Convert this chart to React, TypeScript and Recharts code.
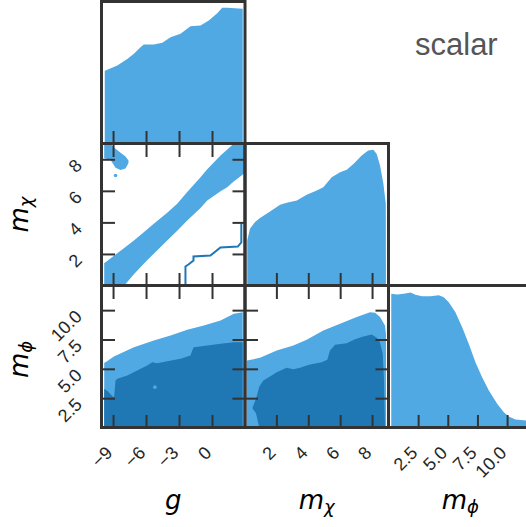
import React from "react";
import { ComposedChart, Area, Line, Scatter, XAxis, YAxis } from "recharts";

const LIGHT = "#51A9E4";
const DARK = "#1F77B4";
const FRAME = "#333333";
const TEXT = "#262626";

// axes
const G_TICKS = [-9, -6, -3, 0];
const MCHI_TICKS = [2, 4, 6, 8];
const MPHI_TICKS = [2.5, 5, 7.5, 10];
const G_DOMAIN: [number, number] = [-10.05, 3];
const MCHI_DOMAIN: [number, number] = [0, 9];
const MPHI_DOMAIN: [number, number] = [0, 12.1];
const PDF_DOMAIN: [number, number] = [0, 1];

// 1D marginals
const G_PDF_X = [-9.8, -9.73, -8.66, -7.75, -7.15, -6.55, -6.25, -5.34, -4.57, -3.82, -2.91, -2.0, -1.09, -0.34, 0.43, 0.88, 1.34, 2.7, 2.75];
const G_PDF_Y = [0.515, 0.518, 0.553, 0.599, 0.635, 0.682, 0.701, 0.701, 0.713, 0.752, 0.776, 0.83, 0.835, 0.87, 0.921, 0.959, 0.959, 0.952, 0.952];

const MCHI_PDF_X = [0.14, 0.31, 0.63, 0.94, 1.57, 2.2, 2.62, 3.25, 3.87, 4.5, 4.91, 5.44, 5.96, 6.38, 6.8, 7.32, 7.73, 8.05, 8.26, 8.47, 8.68, 8.83, 8.84];
const MCHI_PDF_Y = [0.32, 0.403, 0.45, 0.478, 0.525, 0.572, 0.586, 0.602, 0.642, 0.673, 0.696, 0.766, 0.801, 0.818, 0.86, 0.919, 0.954, 0.959, 0.93, 0.849, 0.72, 0.579, 0];

const MPHI_PDF_X = [0.19, 0.69, 1.25, 1.81, 2.23, 2.79, 3.49, 4.2, 4.62, 5.04, 5.6, 6.17, 6.73, 7.29, 7.85, 8.42, 9.12, 9.68, 10.1, 10.66, 11.58, 12.1];
const MPHI_PDF_Y = [0.945, 0.94, 0.945, 0.954, 0.938, 0.928, 0.928, 0.935, 0.921, 0.886, 0.815, 0.709, 0.592, 0.463, 0.357, 0.264, 0.17, 0.111, 0.081, 0.06, 0.053, 0.05];

// g vs m_chi
const BAND_G = [-9.85, -9.73, -8.06, -7.15, -6.25, -5.34, -4.12, -3.21, -2.3, -1.09, -0.48, 0.73, 1.34, 1.9, 2.85, 3.0];
const BAND_LO = [0, 0, 0, 0.75, 1.41, 2.05, 2.88, 3.5, 4.15, 4.95, 5.42, 6.0, 6.26, 6.6, 7.11, 7.2];
const BAND_HI = [1.45, 1.51, 2.4, 2.88, 3.4, 3.94, 4.65, 5.21, 5.95, 6.89, 7.4, 8.27, 8.65, 9, 9, 9];

const BLOB_G = [-9.85, -9.28, -8.82, -8.36, -7.91, -7.64];
const BLOB_LO = [8.1, 8.0, 7.5, 7.35, 7.45, 7.8];
const BLOB_HI = [9, 9, 8.7, 8.45, 8.2, 7.95];
const SPECK_G = [-8.82];
const SPECK_M = [7.0];

const STEP_G = [-2.46, -2.46, -2.19, -1.73, -1.73, -0.19, 0.72, 2.3, 2.62, 2.62];
const STEP_M = [0, 1.24, 1.36, 1.62, 1.87, 1.93, 2.44, 2.5, 2.76, 3.96];

// g vs m_phi
const L31_G = [-9.85, -9.73, -8.97, -7.15, -5.34, -3.82, -2.3, -0.79, 0.73, 1.94, 2.75];
const L31_HI = [5.55, 5.61, 6.1, 6.89, 7.46, 7.89, 8.37, 8.74, 9.16, 9.74, 9.87];
const D31_G = [-9.85, -9.5, -9.1, -8.95, -8.82, -8.66, -7.75, -6.85, -5.94, -5.48, -5.03, -4.12, -2.91, -2.0, -1.85, -1.7, -0.48, 0.73, 1.94, 2.75];
const D31_HI = [3.34, 3.1, 2.7, 2.63, 4.05, 4.19, 4.48, 4.9, 5.33, 5.61, 5.52, 5.69, 5.9, 6.18, 6.6, 6.89, 7.03, 7.18, 7.31, 7.31];
const SPOT_G = [-5.24];
const SPOT_M = [3.48];

// m_chi vs m_phi
const L32_X = [0.125, 0.94, 1.99, 3.03, 3.87, 4.91, 5.96, 7.01, 7.84, 8.16, 8.47, 8.78, 8.84, 8.85];
const L32_HI = [5.75, 5.98, 6.61, 7.03, 7.52, 8.31, 8.88, 9.45, 9.87, 9.82, 9.45, 8.74, 8.0, 0];
const D32_X = [0.48, 0.69, 0.9, 1.15, 1.57, 1.99, 2.61, 3.03, 3.45, 4.08, 4.81, 5.16, 5.33, 5.65, 6.38, 6.9, 7.42, 7.95, 8.26, 8.43, 8.64, 8.72, 8.78];
const D32_LO = [1.63, 1.26, 0, 0, 0, 0, 0, 0, 0, 0, 0, 0, 0, 0, 0, 0, 0, 0, 0, 0, 0, 0, 0];
const D32_HI = [1.77, 2.49, 3.54, 4.05, 4.39, 4.76, 5.13, 5.01, 5.13, 5.41, 5.61, 5.82, 6.61, 7.09, 7.23, 7.57, 7.8, 7.97, 7.7, 7.46, 6.33, 4.05, 0];

const pts = (xs: number[], ys: number[]) => xs.map((x, i) => ({ x, y: ys[i] }));
const band = (xs: number[], lo: number[], hi: number[]) => xs.map((x, i) => ({ x, y: [lo[i], hi[i]] }));

// layout
const COL_X = [101.5, 245, 388.5];
const ROW_Y = [1.5, 143.5, 285.5];
const PW = 143.5;
const PH = 142;
const TICK_LEN = 13;
const TICK_W = 2;
const SANS = "'Liberation Sans', Arial, sans-serif";
const MATH = "'DejaVu Sans', sans-serif";

const fmtG = (v: number) => (v < 0 ? "\u2212" + Math.abs(v) : String(v));
const fmtInt = (v: number) => String(v);
const fmtOne = (v: number) => v.toFixed(1);

// ticks point inwards; off-diagonal panels get them on all four sides
function xTick(mirror: boolean, fmt?: (v: number) => string) {
  return (p: any) => {
    const { x, y, payload } = p;
    const ly = y + 26;
    return (
      <g>
        <line x1={x} y1={y} x2={x} y2={y - TICK_LEN} stroke={FRAME} strokeWidth={TICK_W} />
        {mirror && <line x1={x} y1={y - PH} x2={x} y2={y - PH + TICK_LEN} stroke={FRAME} strokeWidth={TICK_W} />}
        {fmt && (
          <text x={x} y={ly} transform={`rotate(-45 ${x} ${ly})`} textAnchor="end"
            fontFamily={SANS} fontSize={18} fill={TEXT}>{fmt(payload.value)}</text>
        )}
      </g>
    );
  };
}

function yTick(fmt?: (v: number) => string) {
  return (p: any) => {
    const { x, y, payload } = p;
    const lx = x - 19, ly = y + 7;
    return (
      <g>
        <line x1={x} y1={y} x2={x + TICK_LEN} y2={y} stroke={FRAME} strokeWidth={TICK_W} />
        <line x1={x + PW} y1={y} x2={x + PW - TICK_LEN} y2={y} stroke={FRAME} strokeWidth={TICK_W} />
        {fmt && (
          <text x={lx} y={ly} transform={`rotate(-45 ${lx} ${ly})`} textAnchor="end"
            fontFamily={SANS} fontSize={18} fill={TEXT}>{fmt(payload.value)}</text>
        )}
      </g>
    );
  };
}

type PanelProps = {
  col: number;
  row: number;
  xDomain: [number, number];
  xTicks: number[];
  xFmt?: (v: number) => string;
  yDomain: [number, number];
  yTicks?: number[];
  yFmt?: (v: number) => string;
  children: React.ReactNode;
};

function Panel({ col, row, xDomain, xTicks, xFmt, yDomain, yTicks, yFmt, children }: PanelProps) {
  const twoD = !!yTicks;
  return (
    <div style={{ position: "absolute", left: COL_X[col] - 100, top: ROW_Y[row] - 10 }}>
      <ComposedChart width={PW + 110} height={PH + 110}
        margin={{ top: 10, right: 10, bottom: 70, left: twoD ? 70 : 100 }}>
        {children}
        <XAxis type="number" dataKey="x" domain={xDomain} ticks={xTicks} interval={0} allowDataOverflow
          height={30} tickSize={0} tickMargin={0} axisLine={false} tickLine={false}
          tick={xTick(twoD, xFmt)} />
        {twoD ? (
          <YAxis type="number" domain={yDomain} ticks={yTicks} interval={0} allowDataOverflow
            width={30} tickSize={0} tickMargin={0} axisLine={false} tickLine={false}
            tick={yTick(yFmt)} />
        ) : (
          <YAxis type="number" domain={yDomain} allowDataOverflow hide />
        )}
      </ComposedChart>
    </div>
  );
}

const fill = (data: any[], color: string, key: string) => (
  <Area key={key} data={data} dataKey="y" type="linear" stroke="none" fill={color} fillOpacity={1}
    dot={false} activeDot={false} isAnimationActive={false} />
);

const dotShape = (color: string) => (p: any) => <circle cx={p.cx} cy={p.cy} r={1.8} fill={color} />;

function Title({ x, y, sub, rotate }: { x: number; y: number; sub?: string; rotate?: boolean }) {
  return (
    <text x={x} y={y} textAnchor="middle" fontFamily={MATH} fontStyle="italic" fontSize={26} fill="#000"
      transform={rotate ? `rotate(-90 ${x} ${y})` : undefined}>
      {sub ? "m" : "g"}
      {sub && <tspan dy={4} fontSize={18}>{sub}</tspan>}
    </text>
  );
}

export default function App() {
  const frames: [number, number][] = [[0, 0], [1, 0], [1, 1], [2, 0], [2, 1], [2, 2]];
  return (
    <div style={{ position: "absolute", left: 0, top: 0, width: 526, height: 527, overflow: "hidden", background: "#fff" }}>
      <Panel col={0} row={0} xDomain={G_DOMAIN} xTicks={G_TICKS} yDomain={PDF_DOMAIN}>
        {[fill(pts(G_PDF_X, G_PDF_Y), LIGHT, "g")]}
      </Panel>
      <Panel col={0} row={1} xDomain={G_DOMAIN} xTicks={G_TICKS} yDomain={MCHI_DOMAIN} yTicks={MCHI_TICKS} yFmt={fmtInt}>
        {[
          fill(band(BAND_G, BAND_LO, BAND_HI), LIGHT, "band"),
          fill(band(BLOB_G, BLOB_LO, BLOB_HI), LIGHT, "blob"),
          <Line key="step" data={pts(STEP_G, STEP_M)} dataKey="y" type="linear" stroke={DARK} strokeWidth={2}
            dot={false} activeDot={false} isAnimationActive={false} />,
          <Scatter key="speck" data={pts(SPECK_G, SPECK_M)} dataKey="y" fill={LIGHT} shape={dotShape(LIGHT)}
            isAnimationActive={false} />,
        ]}
      </Panel>
      <Panel col={1} row={1} xDomain={MCHI_DOMAIN} xTicks={MCHI_TICKS} yDomain={PDF_DOMAIN}>
        {[fill(pts(MCHI_PDF_X, MCHI_PDF_Y), LIGHT, "mchi")]}
      </Panel>
      <Panel col={0} row={2} xDomain={G_DOMAIN} xTicks={G_TICKS} xFmt={fmtG} yDomain={MPHI_DOMAIN} yTicks={MPHI_TICKS} yFmt={fmtOne}>
        {[
          fill(pts(L31_G, L31_HI), LIGHT, "l31"),
          fill(pts(D31_G, D31_HI), DARK, "d31"),
          <Scatter key="spot" data={pts(SPOT_G, SPOT_M)} dataKey="y" fill={LIGHT} shape={dotShape(LIGHT)}
            isAnimationActive={false} />,
        ]}
      </Panel>
      <Panel col={1} row={2} xDomain={MCHI_DOMAIN} xTicks={MCHI_TICKS} xFmt={fmtInt} yDomain={MPHI_DOMAIN} yTicks={MPHI_TICKS}>
        {[
          fill(pts(L32_X, L32_HI), LIGHT, "l32"),
          fill(band(D32_X, D32_LO, D32_HI), DARK, "d32"),
        ]}
      </Panel>
      <Panel col={2} row={2} xDomain={MPHI_DOMAIN} xTicks={MPHI_TICKS} xFmt={fmtOne} yDomain={PDF_DOMAIN}>
        {[fill(pts(MPHI_PDF_X, MPHI_PDF_Y), LIGHT, "mphi")]}
      </Panel>

      <svg width={526} height={527} style={{ position: "absolute", left: 0, top: 0, pointerEvents: "none" }}>
        {frames.map(([r, c]) => (
          <rect key={`${r}-${c}`} x={COL_X[c]} y={ROW_Y[r]} width={PW} height={PH}
            fill="none" stroke={FRAME} strokeWidth={3} />
        ))}
        <Title x={COL_X[0] + PW / 2} y={509} />
        <Title x={COL_X[1] + PW / 2} y={509} sub={"\u03C7"} />
        <Title x={COL_X[2] + PW / 2} y={509} sub={"\u03D5"} />
        <Title x={28} y={ROW_Y[1] + PH / 2} sub={"\u03C7"} rotate />
        <Title x={28} y={ROW_Y[2] + PH / 2 + 3} sub={"\u03D5"} rotate />
        <text x={415} y={55} fontFamily={SANS} fontSize={31} fill="#555555">scalar</text>
      </svg>
    </div>
  );
}
